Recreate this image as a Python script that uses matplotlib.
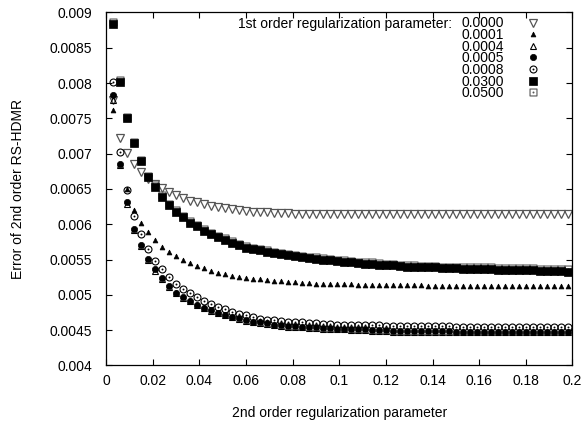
import numpy as np
import matplotlib.pyplot as plt
from matplotlib.path import Path

plt.rcParams['font.family'] = ['Liberation Sans', 'DejaVu Sans']
plt.rcParams['font.size'] = 10

# 2nd order regularization parameter (sampled every 0.003)
x = np.linspace(0.003, 0.198, 66)

# error of 2nd order RS-HDMR for each 1st order regularization parameter
err_0000 = [0.00776, 0.00722, 0.00701, 0.00685, 0.00674, 0.00664, 0.00657, 0.00651, 0.00646, 0.00641,
            0.00637, 0.00633, 0.00631, 0.00629, 0.00626, 0.00624, 0.00623, 0.00622, 0.00620, 0.00619,
            0.00618, 0.00617, 0.00617, 0.00616, 0.00616, 0.00616, 0.00615, 0.00615, 0.00615, 0.00615,
            0.00615, 0.00615, 0.00615, 0.00615, 0.00615, 0.00614, 0.00614, 0.00614, 0.00614, 0.00614,
            0.00614, 0.00614, 0.00614, 0.00614, 0.00614, 0.00614, 0.00614, 0.00614, 0.00614, 0.00614,
            0.00614, 0.00614, 0.00614, 0.00614, 0.00614, 0.00614, 0.00614, 0.00614, 0.00614, 0.00614,
            0.00614, 0.00614, 0.00614, 0.00614, 0.00614, 0.00614]
err_0001 = [0.00762, 0.00686, 0.00650, 0.00620, 0.00602, 0.00589, 0.00578, 0.00568, 0.00561, 0.00555,
            0.00549, 0.00545, 0.00541, 0.00538, 0.00534, 0.00531, 0.00530, 0.00527, 0.00526, 0.00524,
            0.00523, 0.00522, 0.00521, 0.00520, 0.00519, 0.00518, 0.00518, 0.00517, 0.00517, 0.00516,
            0.00516, 0.00516, 0.00515, 0.00515, 0.00515, 0.00514, 0.00514, 0.00514, 0.00514, 0.00514,
            0.00514, 0.00514, 0.00514, 0.00514, 0.00514, 0.00513, 0.00513, 0.00513, 0.00513, 0.00513,
            0.00513, 0.00513, 0.00513, 0.00513, 0.00513, 0.00513, 0.00513, 0.00513, 0.00513, 0.00513,
            0.00513, 0.00513, 0.00513, 0.00513, 0.00513, 0.00513]
err_0004 = [0.00776, 0.00684, 0.00629, 0.00592, 0.00569, 0.00549, 0.00534, 0.00522, 0.00511, 0.00502,
            0.00496, 0.00491, 0.00485, 0.00481, 0.00477, 0.00474, 0.00471, 0.00468, 0.00466, 0.00463,
            0.00461, 0.00460, 0.00459, 0.00457, 0.00456, 0.00455, 0.00455, 0.00454, 0.00453, 0.00453,
            0.00452, 0.00452, 0.00451, 0.00451, 0.00450, 0.00450, 0.00450, 0.00449, 0.00449, 0.00449,
            0.00448, 0.00448, 0.00448, 0.00448, 0.00448, 0.00448, 0.00448, 0.00448, 0.00448, 0.00447,
            0.00447, 0.00447, 0.00447, 0.00447, 0.00447, 0.00447, 0.00447, 0.00447, 0.00447, 0.00447,
            0.00447, 0.00447, 0.00447, 0.00447, 0.00447, 0.00447]
err_0005 = [0.00783, 0.00686, 0.00631, 0.00594, 0.00571, 0.00551, 0.00536, 0.00524, 0.00513, 0.00503,
            0.00497, 0.00492, 0.00486, 0.00482, 0.00478, 0.00475, 0.00472, 0.00469, 0.00467, 0.00464,
            0.00462, 0.00461, 0.00460, 0.00458, 0.00457, 0.00456, 0.00456, 0.00455, 0.00454, 0.00454,
            0.00453, 0.00453, 0.00452, 0.00452, 0.00451, 0.00451, 0.00451, 0.00450, 0.00450, 0.00450,
            0.00449, 0.00449, 0.00449, 0.00449, 0.00449, 0.00449, 0.00449, 0.00449, 0.00449, 0.00448,
            0.00448, 0.00448, 0.00448, 0.00448, 0.00448, 0.00448, 0.00448, 0.00448, 0.00448, 0.00448,
            0.00448, 0.00448, 0.00448, 0.00448, 0.00448, 0.00448]
err_0008 = [0.00802, 0.00703, 0.00648, 0.00612, 0.00586, 0.00565, 0.00548, 0.00536, 0.00526, 0.00516,
            0.00509, 0.00502, 0.00497, 0.00492, 0.00487, 0.00483, 0.00480, 0.00476, 0.00473, 0.00471,
            0.00468, 0.00466, 0.00465, 0.00464, 0.00463, 0.00462, 0.00461, 0.00461, 0.00460, 0.00460,
            0.00459, 0.00459, 0.00458, 0.00458, 0.00458, 0.00457, 0.00457, 0.00457, 0.00457, 0.00456,
            0.00456, 0.00456, 0.00456, 0.00456, 0.00456, 0.00456, 0.00456, 0.00456, 0.00456, 0.00455,
            0.00455, 0.00455, 0.00455, 0.00455, 0.00455, 0.00455, 0.00455, 0.00455, 0.00455, 0.00455,
            0.00455, 0.00455, 0.00455, 0.00455, 0.00455, 0.00455]
err_0300 = [0.00884, 0.00802, 0.00750, 0.00715, 0.00689, 0.00667, 0.00653, 0.00639, 0.00627, 0.00618,
            0.00610, 0.00602, 0.00597, 0.00591, 0.00586, 0.00582, 0.00578, 0.00574, 0.00570, 0.00567,
            0.00565, 0.00563, 0.00561, 0.00559, 0.00558, 0.00556, 0.00555, 0.00553, 0.00552, 0.00551,
            0.00550, 0.00549, 0.00548, 0.00547, 0.00546, 0.00545, 0.00544, 0.00544, 0.00543, 0.00542,
            0.00542, 0.00541, 0.00540, 0.00540, 0.00539, 0.00539, 0.00539, 0.00538, 0.00538, 0.00538,
            0.00537, 0.00537, 0.00536, 0.00536, 0.00536, 0.00535, 0.00535, 0.00535, 0.00535, 0.00535,
            0.00535, 0.00534, 0.00534, 0.00534, 0.00534, 0.00532]
err_0500 = [0.00886, 0.00804, 0.00752, 0.00717, 0.00691, 0.00669, 0.00655, 0.00641, 0.00629, 0.00620,
            0.00612, 0.00604, 0.00599, 0.00593, 0.00588, 0.00584, 0.00580, 0.00576, 0.00572, 0.00569,
            0.00567, 0.00565, 0.00563, 0.00561, 0.00560, 0.00558, 0.00557, 0.00555, 0.00554, 0.00553,
            0.00552, 0.00551, 0.00550, 0.00549, 0.00548, 0.00547, 0.00546, 0.00546, 0.00545, 0.00544,
            0.00544, 0.00543, 0.00542, 0.00542, 0.00541, 0.00541, 0.00541, 0.00540, 0.00540, 0.00540,
            0.00539, 0.00539, 0.00539, 0.00539, 0.00539, 0.00538, 0.00538, 0.00538, 0.00538, 0.00538,
            0.00538, 0.00537, 0.00537, 0.00537, 0.00537, 0.00536]

# gnuplot style "circle with dot" and "square with dot" markers
dot = Path.circle((0, 0), 0.12)
circ_dot = Path.make_compound_path(Path.unit_circle(), dot)
square = Path([(-1, -1), (1, -1), (1, 1), (-1, 1), (-1, -1)], closed=True)
sq_dot = Path.make_compound_path(square, dot)

fig = plt.figure(figsize=(5.85, 4.22), dpi=100)
ax = fig.add_axes([0.1812, 0.1339, 0.7974, 0.8365])

grey = '#555555'
ax.plot(x, err_0000, 'v', ms=5.5, mfc='none', mec=grey, mew=0.9, label='0.0000')
ax.plot(x, err_0001, '^', ms=3.5, mfc='k', mec='k', mew=0.5, label='0.0001')
ax.plot(x, err_0004, '^', ms=5, mfc='none', mec='k', mew=0.8, label='0.0004')
ax.plot(x, err_0005, 'o', ms=4.5, mfc='k', mec='k', mew=0.5, label='0.0005')
ax.plot(x, err_0008, marker=circ_dot, ls='none', ms=5, mfc='none', mec='k', mew=0.8, label='0.0008')
h50, = ax.plot(x, err_0500, marker=sq_dot, ls='none', ms=5, mfc='none', mec=grey, mew=0.8,
               label='0.0500')
h30, = ax.plot(x, err_0300, 's', ms=5.5, mfc='k', mec='k', mew=0.5, label='0.0300')

ax.set_xlim(0, 0.2)
ax.set_ylim(0.004, 0.009)
ax.set_xticks(np.arange(0, 0.2001, 0.02))
ax.set_yticks(np.arange(0.004, 0.00901, 0.0005))
ax.xaxis.set_major_formatter(plt.FuncFormatter(lambda v, p: '%g' % round(v, 4)))
ax.yaxis.set_major_formatter(plt.FuncFormatter(lambda v, p: '%g' % round(v, 5)))
ax.tick_params(direction='in', length=4, width=0.8, top=True, right=True, labelsize=10)
ax.tick_params(axis='x', pad=6)
ax.tick_params(axis='y', pad=10)
for s in ax.spines.values():
    s.set_linewidth(0.9)

ax.set_xlabel('2nd order regularization parameter', labelpad=13)
ax.set_ylabel('Error of 2nd order RS-HDMR', labelpad=18)

# legend in the gnuplot order (0.0300 before 0.0500)
handles, labels = ax.get_legend_handles_labels()
order = [0, 1, 2, 3, 4, 6, 5]
ax.legend([handles[i] for i in order], [labels[i] for i in order],
          loc='upper right', bbox_to_anchor=(0.93, 0.989),
          frameon=False, markerfirst=False, numpoints=1, handlelength=1.0,
          handletextpad=1.6, labelspacing=-0.17, borderpad=0, borderaxespad=0)
ax.text(0.741, 0.967, '1st order regularization parameter:', transform=ax.transAxes,
        ha='right', va='center')

fig.savefig('out.png', dpi=100)
